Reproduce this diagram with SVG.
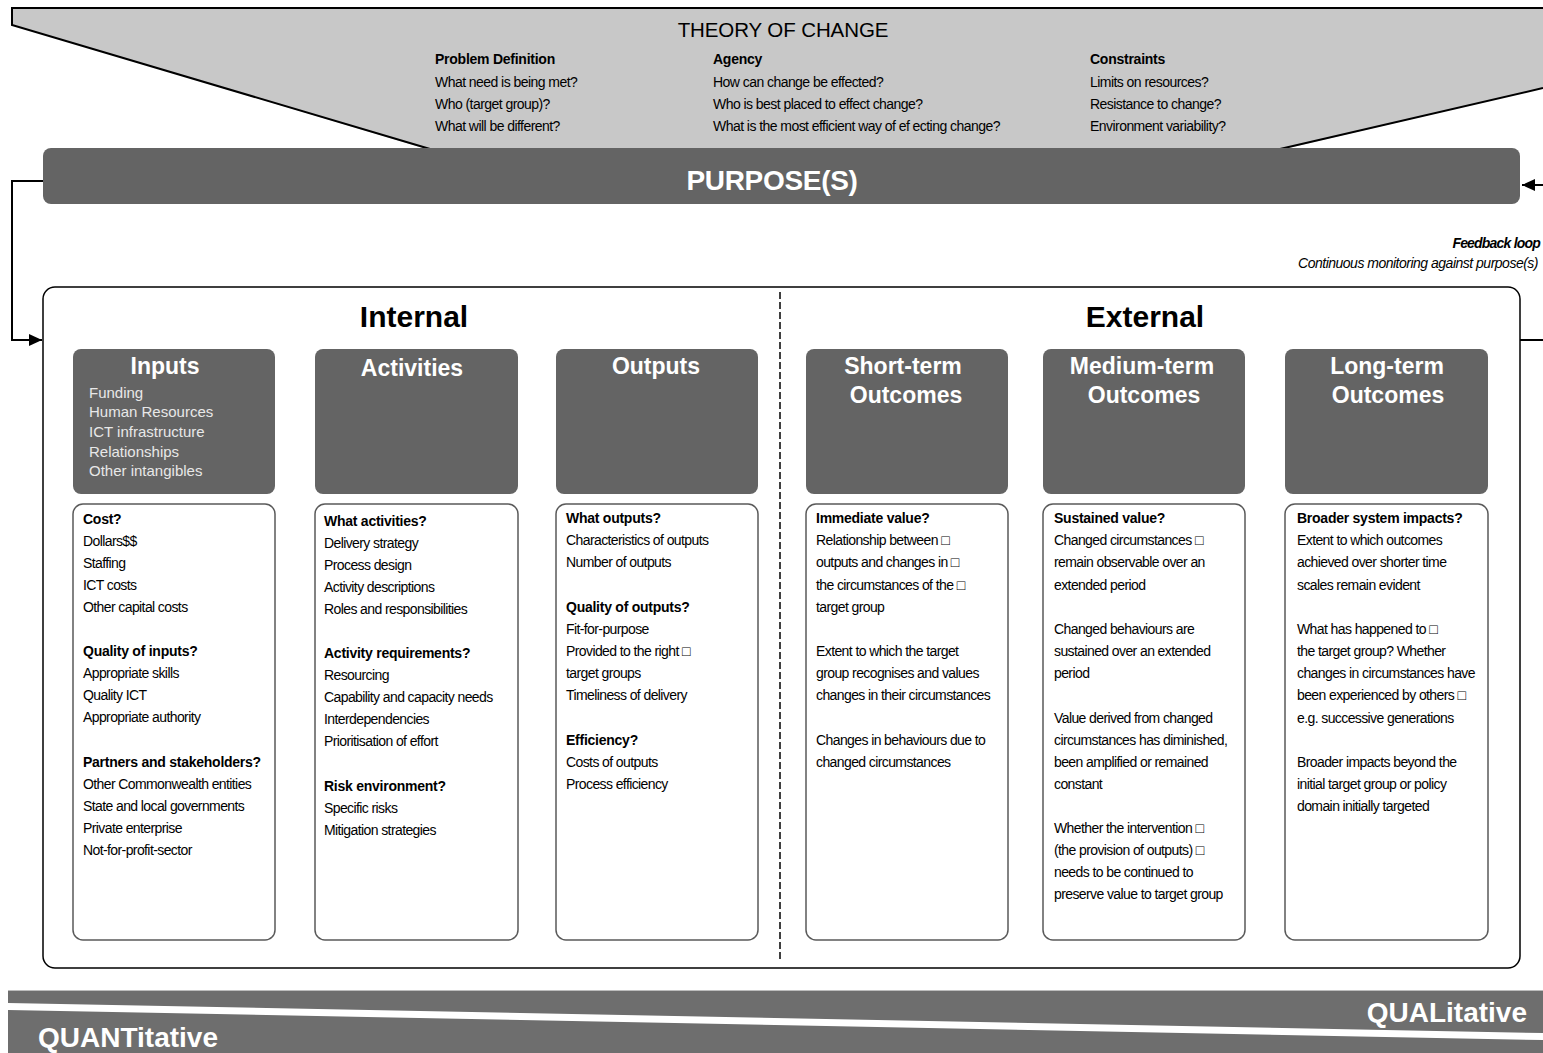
<svg xmlns="http://www.w3.org/2000/svg" width="1543" height="1053" viewBox="0 0 1543 1053">
  <defs>
    <marker id="arrow" viewBox="0 0 13 12" refX="13" refY="6" markerWidth="13" markerHeight="12" orient="auto" markerUnits="userSpaceOnUse">
      <path d="M0,0 L13,6 L0,12 Z" fill="#000"/>
    </marker>
    <style>
      text { font-family: "Liberation Sans", Arial, sans-serif; }
      .toc { font-size: 20.5px; letter-spacing: -0.1px; fill: #000; }
      .q { font-size: 14px; letter-spacing: -0.55px; fill: #000; }
      .qb { font-size: 14px; letter-spacing: -0.25px; font-weight: bold; fill: #000; }
      .bar { fill: #646464; }
      .purpose { font-size: 28px; font-weight: bold; fill: #fff; letter-spacing: -0.3px; }
      .fb { font-size: 14px; font-style: italic; letter-spacing: -0.5px; fill: #000; }
      .fbb { font-size: 14px; font-style: italic; font-weight: bold; letter-spacing: -0.8px; fill: #000; }
      .side { font-size: 30px; font-weight: bold; fill: #000; }
      .hdr { fill: #646464; }
      .hdrt { font-size: 23px; font-weight: bold; fill: #fff; text-anchor: middle; }
      .sub { font-size: 15px; fill: #e8e8e8; }
      .card { fill: #fff; stroke: #5a5a5a; stroke-width: 1.5; }
      .d { font-size: 14px; letter-spacing: -0.6px; fill: #000; }
      .db { font-size: 14px; letter-spacing: -0.25px; font-weight: bold; fill: #000; }
      .conn { fill: none; stroke: #000; stroke-width: 2; }
      .band { font-size: 28px; font-weight: bold; fill: #fff; }
    </style>
  </defs>

  <!-- Theory of change banner -->
  <g id="theory-of-change">
    <polygon points="12,8 1543,8 1543,88 1280,150 430,150 12,25" fill="#c8c8c8"/>
    <polyline points="430,149 12,25 12,8 1543,8" fill="none" stroke="#000" stroke-width="2"/>
    <line x1="1280" y1="149" x2="1543" y2="88" stroke="#000" stroke-width="2"/>
    <text class="toc" x="783" y="37" text-anchor="middle">THEORY OF CHANGE</text>
    <text class="qb" x="435" y="64">Problem Definition</text>
    <text class="q" x="435" y="87">What need is being met?</text>
    <text class="q" x="435" y="109">Who (target group)?</text>
    <text class="q" x="435" y="131">What will be different?</text>
    <text class="qb" x="713" y="64">Agency</text>
    <text class="q" x="713" y="87">How can change be effected?</text>
    <text class="q" x="713" y="109">Who is best placed to effect change?</text>
    <text class="q" x="713" y="131">What is the most efficient way of ef ecting change?</text>
    <text class="qb" x="1090" y="64">Constraints</text>
    <text class="q" x="1090" y="87">Limits on resources?</text>
    <text class="q" x="1090" y="109">Resistance to change?</text>
    <text class="q" x="1090" y="131">Environment variability?</text>
  </g>

  <!-- Purpose bar -->
  <g id="purpose">
    <rect class="bar" x="43" y="148" width="1477" height="56" rx="8"/>
    <text class="purpose" x="772" y="190" text-anchor="middle">PURPOSE(S)</text>
  </g>

  <!-- Feedback loop label -->
  <g id="feedback-label">
    <text class="fbb" x="1540" y="248" text-anchor="end">Feedback loop</text>
    <text class="fb" x="1538" y="268" text-anchor="end">Continuous monitoring against purpose(s)</text>
  </g>

  <!-- Connectors -->
  <g id="connectors">
    <polyline class="conn" points="43,181 12,181 12,340 42,340" marker-end="url(#arrow)"/>
    <line class="conn" x1="1520" y1="340" x2="1543" y2="340"/>
    <line class="conn" x1="1543" y1="185" x2="1522" y2="185" marker-end="url(#arrow)"/>
  </g>

  <!-- Logic model frame -->
  <g id="frame">
    <rect x="43" y="287" width="1477" height="681" rx="12" fill="#fff" stroke="#000" stroke-width="1.5"/>
    <line x1="780" y1="292" x2="780" y2="960" stroke="#000" stroke-width="1.5" stroke-dasharray="7,3"/>
    <text class="side" x="414" y="327" text-anchor="middle">Internal</text>
    <text class="side" x="1145" y="327" text-anchor="middle">External</text>
  </g>

  <!-- Inputs -->
  <g id="inputs">
    <rect class="hdr" x="73" y="349" width="202" height="145" rx="8"/>
    <text class="hdrt" x="165" y="374">Inputs</text>
    <text class="sub" x="89" y="398">Funding</text>
    <text class="sub" x="89" y="417">Human Resources</text>
    <text class="sub" x="89" y="437">ICT infrastructure</text>
    <text class="sub" x="89" y="457">Relationships</text>
    <text class="sub" x="89" y="476">Other intangibles</text>
    <rect class="card" x="73" y="504" width="202" height="436" rx="10"/>
    <text class="db" x="83" y="524">Cost?</text>
    <text class="d" x="83" y="546">Dollars$$</text>
    <text class="d" x="83" y="568">Staffing</text>
    <text class="d" x="83" y="590">ICT costs</text>
    <text class="d" x="83" y="612">Other capital costs</text>
    <text class="db" x="83" y="656">Quality of inputs?</text>
    <text class="d" x="83" y="678">Appropriate skills</text>
    <text class="d" x="83" y="700">Quality ICT</text>
    <text class="d" x="83" y="722">Appropriate authority</text>
    <text class="db" x="83" y="767">Partners and stakeholders?</text>
    <text class="d" x="83" y="789">Other Commonwealth entities</text>
    <text class="d" x="83" y="811">State and local governments</text>
    <text class="d" x="83" y="833">Private enterprise</text>
    <text class="d" x="83" y="855">Not-for-profit-sector</text>
  </g>

  <!-- Activities -->
  <g id="activities">
    <rect class="hdr" x="315" y="349" width="203" height="145" rx="8"/>
    <text class="hdrt" x="412" y="376">Activities</text>
    <rect class="card" x="315" y="504" width="203" height="436" rx="10"/>
    <text class="db" x="324" y="526">What activities?</text>
    <text class="d" x="324" y="548">Delivery strategy</text>
    <text class="d" x="324" y="570">Process design</text>
    <text class="d" x="324" y="592">Activity descriptions</text>
    <text class="d" x="324" y="614">Roles and responsibilities</text>
    <text class="db" x="324" y="658">Activity requirements?</text>
    <text class="d" x="324" y="680">Resourcing</text>
    <text class="d" x="324" y="702">Capability and capacity needs</text>
    <text class="d" x="324" y="724">Interdependencies</text>
    <text class="d" x="324" y="746">Prioritisation of effort</text>
    <text class="db" x="324" y="791">Risk environment?</text>
    <text class="d" x="324" y="813">Specific risks</text>
    <text class="d" x="324" y="835">Mitigation strategies</text>
  </g>

  <!-- Outputs -->
  <g id="outputs">
    <rect class="hdr" x="556" y="349" width="202" height="145" rx="8"/>
    <text class="hdrt" x="656" y="374">Outputs</text>
    <rect class="card" x="556" y="504" width="202" height="436" rx="10"/>
    <text class="db" x="566" y="523">What outputs?</text>
    <text class="d" x="566" y="545">Characteristics of outputs</text>
    <text class="d" x="566" y="567">Number of outputs</text>
    <text class="db" x="566" y="612">Quality of outputs?</text>
    <text class="d" x="566" y="634">Fit-for-purpose</text>
    <text class="d" x="566" y="656">Provided to the right □</text>
    <text class="d" x="566" y="678">target groups</text>
    <text class="d" x="566" y="700">Timeliness of delivery</text>
    <text class="db" x="566" y="745">Efficiency?</text>
    <text class="d" x="566" y="767">Costs of outputs</text>
    <text class="d" x="566" y="789">Process efficiency</text>
  </g>

  <!-- Short-term outcomes -->
  <g id="short-term-outcomes">
    <rect class="hdr" x="806" y="349" width="202" height="145" rx="8"/>
    <text class="hdrt" x="903" y="374">Short-term</text>
    <text class="hdrt" x="906" y="403">Outcomes</text>
    <rect class="card" x="806" y="504" width="202" height="436" rx="10"/>
    <text class="db" x="816" y="523">Immediate value?</text>
    <text class="d" x="816" y="545">Relationship between □</text>
    <text class="d" x="816" y="567">outputs and changes in □</text>
    <text class="d" x="816" y="590">the circumstances of the □</text>
    <text class="d" x="816" y="612">target group</text>
    <text class="d" x="816" y="656">Extent to which the target</text>
    <text class="d" x="816" y="678">group recognises and values</text>
    <text class="d" x="816" y="700">changes in their circumstances</text>
    <text class="d" x="816" y="745">Changes in behaviours due to</text>
    <text class="d" x="816" y="767">changed circumstances</text>
  </g>

  <!-- Medium-term outcomes -->
  <g id="medium-term-outcomes">
    <rect class="hdr" x="1043" y="349" width="202" height="145" rx="8"/>
    <text class="hdrt" x="1142" y="374">Medium-term</text>
    <text class="hdrt" x="1144" y="403">Outcomes</text>
    <rect class="card" x="1043" y="504" width="202" height="436" rx="10"/>
    <text class="db" x="1054" y="523">Sustained value?</text>
    <text class="d" x="1054" y="545">Changed circumstances □</text>
    <text class="d" x="1054" y="567">remain observable over an</text>
    <text class="d" x="1054" y="590">extended period</text>
    <text class="d" x="1054" y="634">Changed behaviours are</text>
    <text class="d" x="1054" y="656">sustained over an extended</text>
    <text class="d" x="1054" y="678">period</text>
    <text class="d" x="1054" y="723">Value derived from changed</text>
    <text class="d" x="1054" y="745">circumstances has diminished,</text>
    <text class="d" x="1054" y="767">been amplified or remained</text>
    <text class="d" x="1054" y="789">constant</text>
    <text class="d" x="1054" y="833">Whether the intervention □</text>
    <text class="d" x="1054" y="855">(the provision of outputs) □</text>
    <text class="d" x="1054" y="877">needs to be continued to</text>
    <text class="d" x="1054" y="899">preserve value to target group</text>
  </g>

  <!-- Long-term outcomes -->
  <g id="long-term-outcomes">
    <rect class="hdr" x="1285" y="349" width="203" height="145" rx="8"/>
    <text class="hdrt" x="1387" y="374">Long-term</text>
    <text class="hdrt" x="1388" y="403">Outcomes</text>
    <rect class="card" x="1285" y="504" width="203" height="436" rx="10"/>
    <text class="db" x="1297" y="523">Broader system impacts?</text>
    <text class="d" x="1297" y="545">Extent to which outcomes</text>
    <text class="d" x="1297" y="567">achieved over shorter time</text>
    <text class="d" x="1297" y="590">scales remain evident</text>
    <text class="d" x="1297" y="634">What has happened to □</text>
    <text class="d" x="1297" y="656">the target group? Whether</text>
    <text class="d" x="1297" y="678">changes in circumstances have</text>
    <text class="d" x="1297" y="700">been experienced by others □</text>
    <text class="d" x="1297" y="723">e.g. successive generations</text>
    <text class="d" x="1297" y="767">Broader impacts beyond the</text>
    <text class="d" x="1297" y="789">initial target group or policy</text>
    <text class="d" x="1297" y="811">domain initially targeted</text>
  </g>

  <!-- Quantitative / qualitative band -->
  <g id="method-band">
    <rect x="8" y="990" width="1535" height="63" fill="#6e6e6e"/>
    <line x1="8" y1="990.5" x2="1543" y2="990.5" stroke="#bdbdbd" stroke-width="1"/>
    <polygon points="8,1003 1543,1033 1543,1040 8,1010" fill="#fff"/>
    <text class="band" x="1527" y="1022" text-anchor="end">QUALitative</text>
    <text class="band" x="38" y="1047">QUANTitative</text>
  </g>
</svg>
